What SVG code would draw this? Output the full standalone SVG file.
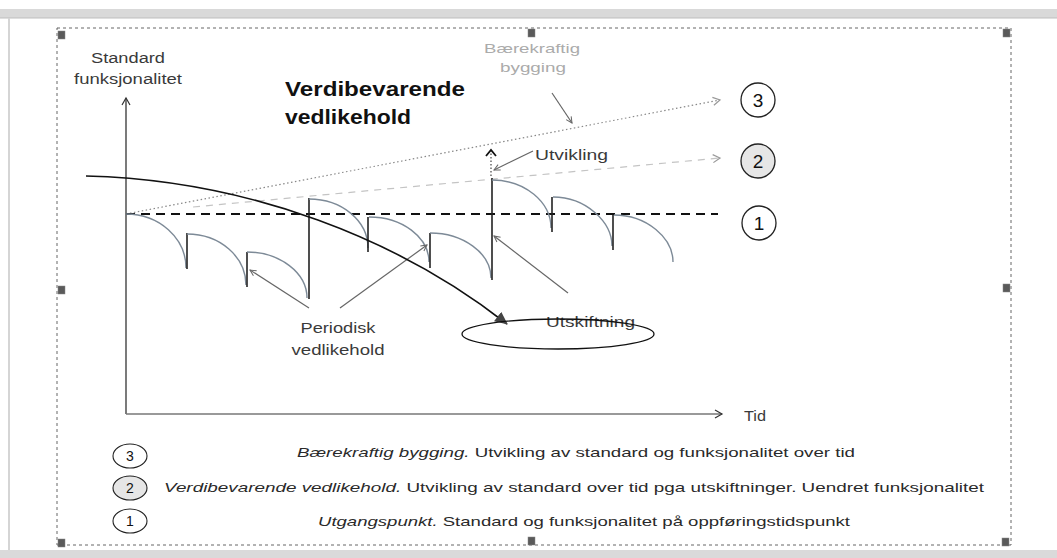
<svg xmlns="http://www.w3.org/2000/svg" width="1057" height="558" viewBox="0 0 1057 558">
<defs>
<style>
text{font-family:"Liberation Sans",Arial,sans-serif}
.lbl{font-size:14px;fill:#3a3a3a}
.leg{font-size:13px;fill:#2a2a2a}
.saw{fill:none;stroke:#7d8a97;stroke-width:1.4}
.jump{stroke:#222;stroke-width:1.6}
.ptr{stroke:#666;stroke-width:1.2;fill:none}
.hdl{fill:#5a5a5a;stroke:#888;stroke-width:0.5}
.frame{fill:none;stroke:#666;stroke-width:1;stroke-dasharray:3,3}
</style>
<marker id="openDark" markerWidth="10" markerHeight="10" refX="8" refY="5" orient="auto" markerUnits="userSpaceOnUse">
<path d="M1,1 L8,5 L1,9" fill="none" stroke="#333" stroke-width="1.2"/>
</marker>
<marker id="openLight" markerWidth="10" markerHeight="10" refX="8" refY="5" orient="auto" markerUnits="userSpaceOnUse">
<path d="M1,1 L8,5 L1,9" fill="none" stroke="#999" stroke-width="1.2"/>
</marker>
<marker id="small" markerWidth="8" markerHeight="8" refX="7" refY="4" orient="auto" markerUnits="userSpaceOnUse">
<path d="M1,1 L7,4 L1,7" fill="none" stroke="#666" stroke-width="1"/>
</marker>
<marker id="filled" markerWidth="14" markerHeight="14" refX="12" refY="7" orient="auto" markerUnits="userSpaceOnUse">
<path d="M0,1 L13,7 L0,13 Z" fill="#444"/>
</marker>
<marker id="caret" markerWidth="12" markerHeight="12" refX="6" refY="2" orient="0" markerUnits="userSpaceOnUse">
<path d="M1,8 L6,2 L11,8" fill="none" stroke="#111" stroke-width="1.8"/>
</marker>
</defs>
<rect width="1057" height="558" fill="#ffffff"/>
<g id="chrome">
<rect x="0" y="9" width="1057" height="9" fill="#d9d9d9"/>
<line x1="0" y1="18" x2="1057" y2="18" stroke="#bdbdbd" stroke-width="1"/>
<rect x="0" y="550" width="1057" height="8" fill="#dadada"/>
<line x1="9" y1="18" x2="9" y2="550" stroke="#d5d5d5" stroke-width="2"/>
<rect x="57" y="28" width="954" height="517" class="frame"/>
<rect x="58" y="31" width="7" height="8" class="hdl"/>
<rect x="528" y="29" width="7" height="8" class="hdl"/>
<rect x="1003" y="29" width="7" height="8" class="hdl"/>
<rect x="58" y="286" width="7" height="8" class="hdl"/>
<rect x="1003" y="284" width="7" height="8" class="hdl"/>
<rect x="58" y="539" width="7" height="8" class="hdl"/>
<rect x="528" y="537" width="7" height="8" class="hdl"/>
<rect x="1002" y="538" width="7" height="8" class="hdl"/>
</g>
<g id="connectors">
<line x1="126" y1="414" x2="126" y2="98" stroke="#333" stroke-width="1.3" marker-end="url(#openDark)"/>
<line x1="126" y1="414" x2="722" y2="414" stroke="#777" stroke-width="1.3" marker-end="url(#openDark)"/>
<line x1="126" y1="214" x2="720" y2="100" stroke="#888" stroke-width="1.2" stroke-dasharray="1.5,2.5" marker-end="url(#openLight)"/>
<line x1="193" y1="207" x2="720" y2="158" stroke="#c4c4c4" stroke-width="1.2" stroke-dasharray="7,6" marker-end="url(#openLight)"/>
<line x1="126" y1="214" x2="718" y2="214" stroke="#111" stroke-width="2" stroke-dasharray="9,6"/>
<g>
<path class="saw" d="M126,214 C159,214 186,238 186,268"/>
<line class="jump" x1="187" y1="233" x2="187" y2="269"/>
<path class="saw" d="M187,234 C220,234 246,257 246,285"/>
<line class="jump" x1="247" y1="252" x2="247" y2="287"/>
<path class="saw" d="M247,252 C280,252 307,273 307,298"/>
<line class="jump" x1="309" y1="198" x2="309" y2="299"/>
<path class="saw" d="M309,199 C342,199 368,221 368,248"/>
<line class="jump" x1="368" y1="217" x2="368" y2="252"/>
<path class="saw" d="M369,217 C402,217 429,237 429,262"/>
<line class="jump" x1="430" y1="233" x2="430" y2="268"/>
<path class="saw" d="M430,233 C463,233 491,253 491,278"/>
<line class="jump" x1="492" y1="178" x2="492" y2="280"/>
<path class="saw" d="M492,180 C525,180 551,202 551,228"/>
<line class="jump" x1="552" y1="197" x2="552" y2="232"/>
<path class="saw" d="M553,197 C586,197 612,222 612,246"/>
<line class="jump" x1="613" y1="215" x2="613" y2="250"/>
<path class="saw" d="M614,215 C647,215 673,238 673,262"/>
</g>
<line x1="491" y1="176" x2="491" y2="150" stroke="#444" stroke-width="1.2" stroke-dasharray="1.5,2" marker-end="url(#caret)"/>
<line class="ptr" x1="533" y1="151" x2="494" y2="170" marker-end="url(#small)"/>
<line class="ptr" x1="552" y1="93" x2="572" y2="123" marker-end="url(#small)"/>
<line class="ptr" x1="309" y1="308" x2="250" y2="270" marker-end="url(#small)"/>
<line class="ptr" x1="340" y1="308" x2="427" y2="245" marker-end="url(#small)"/>
<line class="ptr" x1="568" y1="293" x2="494" y2="236" marker-end="url(#small)"/>
<path d="M86,176 C250,180 400,240 507,324" fill="none" stroke="#111" stroke-width="1.6" marker-end="url(#filled)"/>
</g>
<g id="axis-labels">
<text x="128" y="63" text-anchor="middle" class="lbl" textLength="74" lengthAdjust="spacingAndGlyphs">Standard</text>
<text x="128" y="84" text-anchor="middle" class="lbl" textLength="108" lengthAdjust="spacingAndGlyphs">funksjonalitet</text>
<text x="744" y="421" class="lbl" textLength="22" lengthAdjust="spacingAndGlyphs">Tid</text>
</g>
<g id="title">
<text x="285" y="96" font-size="21" font-weight="bold" fill="#111" textLength="180" lengthAdjust="spacingAndGlyphs">Verdibevarende</text>
<text x="285" y="124" font-size="21" font-weight="bold" fill="#111" textLength="126" lengthAdjust="spacingAndGlyphs">vedlikehold</text>
</g>
<g id="baerekraftig">
<text x="532" y="53" text-anchor="middle" font-size="13" fill="#ababab" textLength="96" lengthAdjust="spacingAndGlyphs">Bærekraftig</text>
<text x="533" y="72" text-anchor="middle" font-size="13" fill="#ababab" textLength="66" lengthAdjust="spacingAndGlyphs">bygging</text>
</g>
<g id="utvikling">
<text x="535" y="160" class="lbl" textLength="73" lengthAdjust="spacingAndGlyphs">Utvikling</text>
</g>
<g id="periodisk">
<text x="338" y="333" text-anchor="middle" class="lbl" textLength="75" lengthAdjust="spacingAndGlyphs">Periodisk</text>
<text x="338" y="355" text-anchor="middle" class="lbl" textLength="93" lengthAdjust="spacingAndGlyphs">vedlikehold</text>
</g>
<g id="utskiftning">
<text x="546" y="327" class="lbl" textLength="89" lengthAdjust="spacingAndGlyphs">Utskiftning</text>
<ellipse cx="558" cy="334" rx="96" ry="15" fill="none" stroke="#111" stroke-width="1.3"/>
</g>
<g id="marker-3">
<circle cx="758" cy="100" r="17" fill="#fff" stroke="#222" stroke-width="1.3"/>
<text x="758" y="107" text-anchor="middle" font-size="19" fill="#111">3</text>
</g>
<g id="marker-2">
<circle cx="758" cy="161" r="17" fill="#e6e6e6" stroke="#222" stroke-width="1.3"/>
<text x="758" y="168" text-anchor="middle" font-size="19" fill="#111">2</text>
</g>
<g id="marker-1">
<circle cx="759" cy="223" r="17" fill="#fff" stroke="#222" stroke-width="1.3"/>
<text x="759" y="230" text-anchor="middle" font-size="19" fill="#111">1</text>
</g>
<g id="legend-3">
<ellipse cx="130" cy="456" rx="17" ry="12" fill="#fff" stroke="#222" stroke-width="1.1"/>
<text x="130" y="461" text-anchor="middle" font-size="14" fill="#111">3</text>
<text x="297" y="457" class="leg" textLength="558" lengthAdjust="spacingAndGlyphs"><tspan font-style="italic">Bærekraftig bygging.</tspan> Utvikling av standard og funksjonalitet over tid</text>
</g>
<g id="legend-2">
<ellipse cx="130" cy="488" rx="17" ry="12" fill="#e6e6e6" stroke="#222" stroke-width="1.1"/>
<text x="130" y="493" text-anchor="middle" font-size="14" fill="#111">2</text>
<text x="164" y="492" class="leg" textLength="820" lengthAdjust="spacingAndGlyphs"><tspan font-style="italic">Verdibevarende vedlikehold.</tspan> Utvikling av standard over tid pga utskiftninger. Uendret funksjonalitet</text>
</g>
<g id="legend-1">
<ellipse cx="130" cy="521" rx="17" ry="12" fill="#fff" stroke="#222" stroke-width="1.1"/>
<text x="130" y="526" text-anchor="middle" font-size="14" fill="#111">1</text>
<text x="318" y="526" class="leg" textLength="532" lengthAdjust="spacingAndGlyphs"><tspan font-style="italic">Utgangspunkt.</tspan> Standard og funksjonalitet på oppføringstidspunkt</text>
</g>
</svg>
